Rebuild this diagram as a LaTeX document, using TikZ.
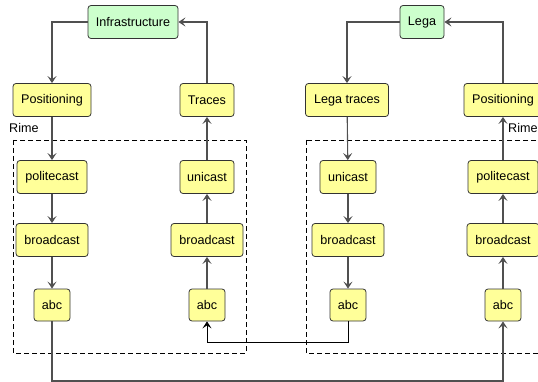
\documentclass[tikz,border=0pt]{standalone}
\usepackage{fontspec}
\setmainfont{Liberation Sans}
\usetikzlibrary{arrows.meta}
\definecolor{layerfill}{HTML}{FFFF99}
\definecolor{appfill}{HTML}{CCFFCC}
\definecolor{wire}{HTML}{505050}
\tikzset{>/.tip={Stealth[length=7pt,width=9pt,inset=3pt]}}
\tikzset{layer/.style={draw=black!80, line width=0.8pt, fill=layerfill, rounded corners=3pt,
    minimum height=33pt, inner sep=0pt, font=\fontsize{12.6}{14}\selectfont},
  app/.style={layer, fill=appfill},
  wire/.style={->, draw=wire, line width=1.1pt}}

\begin{document}
\begin{tikzpicture}[x=1pt,y=-1pt]
\useasboundingbox (0,0) rectangle (538,382);
% stack frames
\draw[dash pattern=on 5pt off 3pt, line width=0.8pt] (13,140) rectangle (246,353);
\draw[dash pattern=on 5pt off 3pt, line width=0.8pt] (306,140) rectangle (580,353);
\node[anchor=west, inner sep=0pt, font=\fontsize{12.6}{14}\selectfont] (rimeA) at (9,128) {Rime};
\node[anchor=west, inner sep=0pt, font=\fontsize{12.6}{14}\selectfont] (rimeB) at (508,128) {Rime};

\node[app, minimum width=90pt] (infra) at (133,22) {Infrastructure};
\node[app, minimum width=44pt] (lega) at (422,22) {Lega};

\node[layer, minimum width=78pt] (posA) at (52,100) {Positioning};
\node[layer, minimum width=54pt] (traces) at (207,100) {Traces};
\node[layer, minimum width=83pt] (legatr) at (347,100) {Lega traces};
\node[layer, minimum width=78pt] (posB) at (503,100) {Positioning};

\node[layer, minimum width=70pt] (politeA) at (52,177) {politecast};
\node[layer, minimum width=54pt] (uniA) at (207,177) {unicast};
\node[layer, minimum width=56pt] (uniB) at (348,177) {unicast};
\node[layer, minimum width=70pt] (politeB) at (503,177) {politecast};

\node[layer, minimum width=72pt] (bcastA) at (52,240) {broadcast};
\node[layer, minimum width=72pt] (bcastB) at (207,240) {broadcast};
\node[layer, minimum width=72pt] (bcastC) at (348,240) {broadcast};
\node[layer, minimum width=72pt] (bcastD) at (503,240) {broadcast};

\node[layer, minimum width=36pt, minimum height=32pt] (abcA) at (52,305) {abc};
\node[layer, minimum width=36pt, minimum height=32pt] (abcB) at (207,305) {abc};
\node[layer, minimum width=36pt, minimum height=32pt] (abcC) at (348,305) {abc};
\node[layer, minimum width=36pt, minimum height=32pt] (abcD) at (503,305) {abc};

\coordinate (busA) at (0,381);
\coordinate (busB) at (0,342);

\draw[wire] (infra.west) -| (posA.north);
\draw[wire] (traces.north) |- (infra.east);
\draw[wire] (lega.west) -| (legatr.north);
\draw[wire] (posB.north) |- (lega.east);

\draw[wire] (posA) -- (politeA);
\draw[wire] (politeA) -- (bcastA);
\draw[wire] (bcastA) -- (abcA);
\draw[wire] (abcB) -- (bcastB);
\draw[wire] (bcastB) -- (uniA);
\draw[wire] (uniA) -- (traces);
\draw[wire] (legatr) -- (uniB);
\draw[wire] (uniB) -- (bcastC);
\draw[wire] (bcastC) -- (abcC);
\draw[wire] (abcD) -- (bcastD);
\draw[wire] (bcastD) -- (politeB);
\draw[wire] (politeB) -- (posB);

\draw[wire] (abcA.south) -- (abcA.south |- busA) -| (abcD.south);
\draw[->, line width=0.8pt] (abcC.south) -- (abcC.south |- busB) -| (abcB.south);
\end{tikzpicture}
\end{document}
